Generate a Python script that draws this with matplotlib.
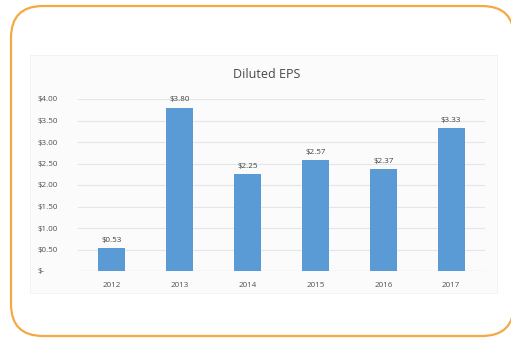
import numpy as np
import matplotlib.pyplot as plt
from matplotlib.patches import FancyBboxPatch, Rectangle

years = ['2012', '2013', '2014', '2015', '2016', '2017']
eps = [0.53, 3.80, 2.25, 2.57, 2.37, 3.33]
eps_labels = ['$0.53', '$3.80', '$2.25', '$2.57', '$2.37', '$3.33']
yticks = [0, 0.5, 1.0, 1.5, 2.0, 2.5, 3.0, 3.5, 4.0]
ytick_labels = ['$-', '$0.50', '$1.00', '$1.50', '$2.00', '$2.50', '$3.00', '$3.50', '$4.00']

plt.rcParams['font.family'] = ['Open Sans', 'DejaVu Sans']
text_color = '#505050'

fig = plt.figure(figsize=(5.11, 3.39), dpi=100)

# orange rounded frame (runs off the right edge like the original)
frame = FancyBboxPatch((0.11, 0.03), 5.03, 3.30,
                       boxstyle='round,pad=0,rounding_size=0.32',
                       transform=fig.dpi_scale_trans, facecolor='white',
                       edgecolor='#F7A941', linewidth=1.6, zorder=-3)
fig.patches.append(frame)

# faint chart panel
panel = Rectangle((30 / 511, 1 - 293 / 339), 467 / 511, 238 / 339,
                  transform=fig.transFigure, facecolor='#FBFBFB',
                  edgecolor='#F2F2F2', linewidth=0.6, zorder=-2)
fig.patches.append(panel)

ax = fig.add_axes([78 / 511, 1 - 271 / 339, 407 / 511, 172 / 339])
ax.set_facecolor('none')

x = np.arange(len(years))
bars = ax.bar(x, eps, width=0.4, color='#5B9BD5', zorder=3)

for xi, v, lab in zip(x, eps, eps_labels):
    ax.text(xi, v + 0.1, lab, ha='center', va='bottom', fontsize=5.8, color='#404040')

ax.set_xlim(-0.5, 5.5)
ax.set_ylim(0, 4.0)
ax.set_yticks(yticks)
ax.set_yticklabels(ytick_labels)
ax.set_xticks(x)
ax.set_xticklabels(years)
ax.tick_params(axis='both', length=0, labelsize=5.8, labelcolor=text_color)
ax.tick_params(axis='x', pad=8)
for lab in ax.get_yticklabels():
    lab.set_horizontalalignment('left')
ax.yaxis.set_tick_params(pad=29.5)

ax.grid(axis='y', color='#E6E6E6', linewidth=0.8, zorder=0)
for s in ax.spines.values():
    s.set_visible(False)
ax.axhline(0, color='#E0E0E0', linewidth=0.8, zorder=2)

fig.text(267 / 511, 1 - 74 / 339, 'Diluted EPS', ha='center', va='center',
         fontsize=9, color='#474747')

fig.savefig('out.png', dpi=100)
